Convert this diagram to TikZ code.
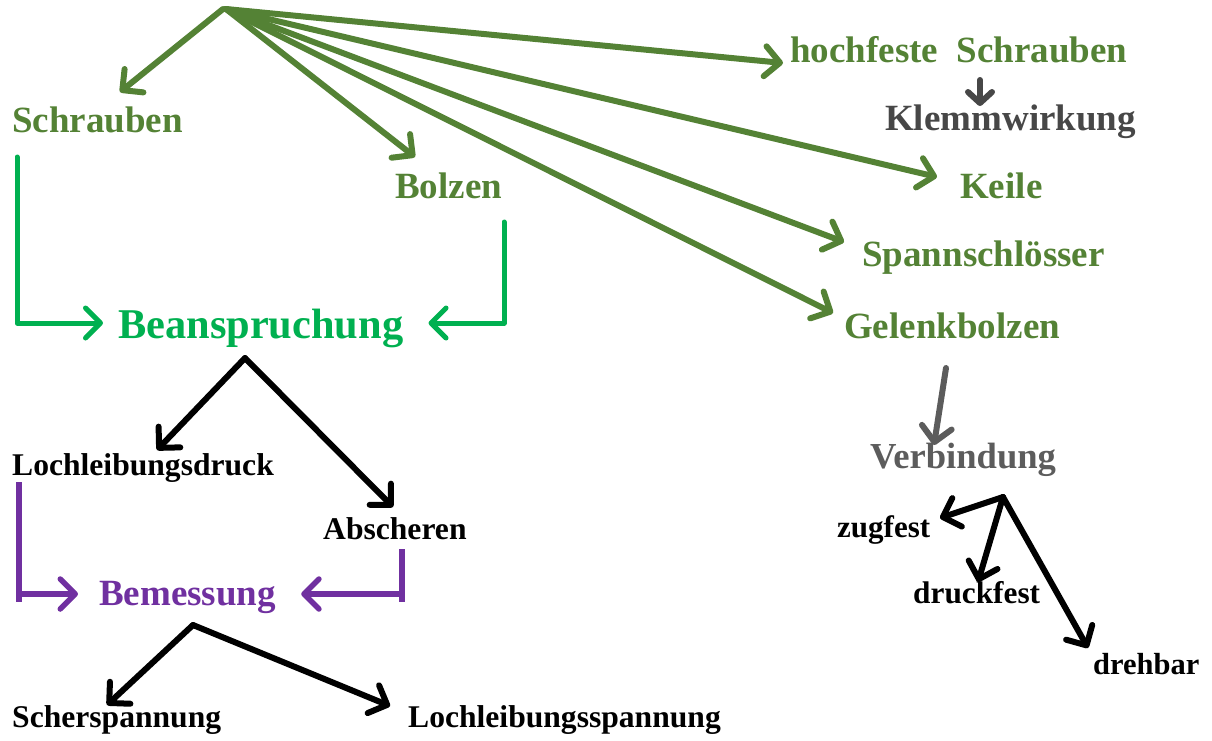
\documentclass[tikz,border=0pt]{standalone}
\usepackage{fontspec}
\setmainfont{Liberation Serif}
\usetikzlibrary{arrows.meta}
\definecolor{olive}{HTML}{548235}
\definecolor{brightgreen}{HTML}{00B050}
\definecolor{violet}{HTML}{7030A0}
\definecolor{darkgray}{HTML}{474747}
\definecolor{midgray}{HTML}{5C5C5C}
\tikzset{
  lbl/.style={inner sep=0pt, anchor=base west, font=\bfseries\fontsize{#1}{#1}\selectfont},
  barb/.style={-{Straight Barb[length=15pt,width=30pt,round]}, line cap=round, line join=round},
  smallbarb/.style={-{Straight Barb[length=11pt,width=24pt,round]}, line cap=round, line join=round},
  fan/.style={barb, draw=olive, line width=6pt},
  branch/.style={barb, draw=black, line width=6pt},
  bracketg/.style={draw=brightgreen, line width=5pt},
  bracketv/.style={draw=violet, line width=5.5pt},
}
\begin{document}
\begin{tikzpicture}[x=1pt,y=-1pt]
\useasboundingbox (0,0) rectangle (1212,740);

% --- labels ---
\node[lbl=37pt, text=olive] (schr) at (12,132) {Schrauben};
\node[lbl=37pt, text=olive] (bolz) at (395,198) {Bolzen};
\node[lbl=37pt, text=olive] (hfs) at (790,62) {hochfeste\ \ Schrauben};
\node[lbl=37pt, text=darkgray] (klemm) at (885,130) {Klemmwirkung};
\node[lbl=37pt, text=olive] (keile) at (960,198) {Keile};
\node[lbl=37pt, text=olive] (spann) at (862,266) {Spannschlösser};
\node[lbl=37pt, text=olive] (gelenk) at (844,338) {Gelenkbolzen};
\node[lbl=42.4pt, text=brightgreen] (bean) at (118,338) {Beanspruchung};
\node[lbl=31.6pt] (lochd) at (12,475) {Lochleibungsdruck};
\node[lbl=31.6pt] (absch) at (323,539) {Abscheren};
\node[lbl=37pt, text=violet] (bem) at (99,605) {Bemessung};
\node[lbl=31.6pt] (scher) at (12,727) {Scherspannung};
\node[lbl=31.6pt] (lochs) at (408,727) {Lochleibungsspannung};
\node[lbl=36.6pt, text=midgray] (verb) at (870,468) {Verbindung};
\node[lbl=31pt] (zug) at (837,537) {zugfest};
\node[lbl=31.3pt] (druck) at (913,603) {druckfest};
\node[lbl=30.5pt] (dreh) at (1093,674) {drehbar};

% --- green fan from the top ---
\coordinate (hub) at (226,9);
\draw[fan] ([xshift=-3pt]hub) -- ([xshift=108pt,yshift=40pt]schr.base west);
\draw[fan] (hub) -- ([xshift=20pt,yshift=41pt]bolz.base west);
\draw[fan] (hub) -- ([xshift=-7pt,yshift=-1pt]hfs.base west);
\draw[fan] (hub) -- ([xshift=-23pt,yshift=21pt]keile.base west);
\draw[fan] (hub) -- ([xshift=-18pt,yshift=24pt]spann.base west);
\draw[fan] (hub) -- ([xshift=-11pt,yshift=25pt]gelenk.base west);

% --- hochfeste Schrauben -> Klemmwirkung ---
\draw[smallbarb, draw=darkgray, line width=6pt]
  ([xshift=190pt,yshift=-18pt]hfs.base west) -- ([xshift=95pt,yshift=24pt]klemm.base west);

% --- brackets into Beanspruchung ---
\draw[bracketg, barb] ([xshift=5pt,yshift=-25pt]schr.base west)
  |- ([xshift=-15pt,yshift=15pt]bean.base west);
\draw[bracketg, barb] ([xshift=109pt,yshift=-24pt]bolz.base west)
  |- ([xshift=25pt,yshift=15pt]bean.base east);

% --- Beanspruchung splits ---
\coordinate (beanhub) at ([xshift=127pt,yshift=-20pt]bean.base west);
\draw[branch] (beanhub) -- ([xshift=145pt,yshift=25pt]lochd.base west);
\draw[branch] (beanhub) -- ([xshift=70pt,yshift=32pt]absch.base west);

% --- brackets into Bemessung ---
\coordinate (bemL) at ([xshift=-21pt,yshift=11pt]bem.base west);
\coordinate (bemR) at ([xshift=25pt,yshift=11pt]bem.base east);
\coordinate (lochdfoot) at ([xshift=7pt,yshift=-7pt]lochd.base west);
\coordinate (abschfoot) at ([xshift=79pt,yshift=-10pt]absch.base west);
\draw[bracketv] (lochdfoot) -- ([yshift=-8pt]lochdfoot |- bemL);
\draw[bracketv, barb] (lochdfoot |- bemL) -- (bemL);
\draw[bracketv] (abschfoot) -- ([yshift=-8pt]abschfoot |- bemR);
\draw[bracketv, barb] (abschfoot |- bemR) -- (bemR);

% --- Bemessung splits ---
\coordinate (bemhub) at ([xshift=94pt,yshift=-20pt]bem.base west);
\draw[branch] (bemhub) -- ([xshift=95pt,yshift=22pt]scher.base west);
\draw[branch] (bemhub) -- ([xshift=-18pt,yshift=21pt]lochs.base west);

% --- Gelenkbolzen -> Verbindung ---
\draw[barb, draw=midgray, line width=6pt]
  ([xshift=102pt,yshift=-30pt]gelenk.base west) -- ([xshift=64pt,yshift=23pt]verb.base west);

% --- Verbindung splits ---
\coordinate (verbhub) at ([xshift=133pt,yshift=-29pt]verb.base west);
\draw[branch] (verbhub) -- ([xshift=103pt,yshift=19pt]zug.base west);
\draw[branch] (verbhub) -- ([xshift=65pt,yshift=21pt]druck.base west);
\draw[branch] (verbhub) -- ([xshift=-5pt,yshift=26pt]dreh.base west);
\end{tikzpicture}
\end{document}
